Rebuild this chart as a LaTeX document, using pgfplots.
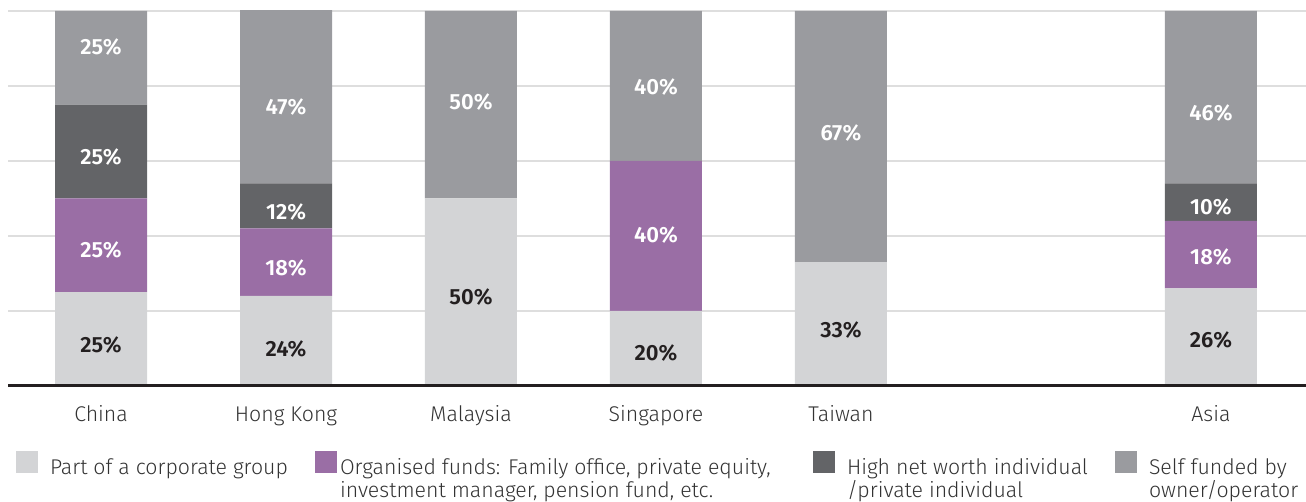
\documentclass[border=0pt]{standalone}
\usepackage{pgfplots}
\usepackage{pgfplotstable}
\pgfplotsset{compat=1.18}
\usepackage{fontspec}
\setmainfont{Fira Sans Light}[BoldFont={Fira Sans SemiBold}]

\definecolor{cLight}{HTML}{D3D4D6}
\definecolor{cPurple}{HTML}{9A6EA5}
\definecolor{cDark}{HTML}{636467}
\definecolor{cMid}{HTML}{9A9B9F}
\definecolor{cText}{HTML}{231F20}
\definecolor{cLab}{HTML}{333333}
\definecolor{cGrid}{HTML}{DEDEDE}

\pgfplotstableread{
x corp funds hnw self
0 25 25 25 25
1 24 18 12 47
2 50 0 0 50
3 20 40 0 40
4 33 0 0 67
6 26 18 10 46
}\datatable

\pgfplotstableread{
x y v
0 11.0 25
1 9.8 24
2 23.7 50
3 8.8 20
4 15.0 33
6 12.3 26
}\darklabels

\pgfplotstableread{
x y v
0 36.3 25
0 61.1 25
0 90.4 25
1 31.5 18
1 46.4 12
1 74.4 47
2 75.7 50
3 40.3 40
3 79.7 40
4 67.5 67
6 34.4 18
6 47.7 10
6 72.8 46
}\whitelabels

\newcommand{\tickfont}{\fontsize{21.3bp}{23bp}\selectfont}
\newcommand{\barfont}{\fontsize{22bp}{24bp}\selectfont\bfseries}

\begin{document}
\begin{tikzpicture}
\useasboundingbox (0,0) rectangle (1306bp,502bp);
\begin{axis}[
  at={(8bp,116bp)}, anchor=south west,
  scale only axis, width=1298bp, height=375bp,
  xmin=-0.503, xmax=6.514, ymin=0, ymax=100,
  ybar stacked, bar width=92bp,
  axis line style={draw=none},
  xtick={0,1,2,3,4,6},
  xticklabels={China,Hong Kong,Malaysia,Singapore,Taiwan,Asia},
  xticklabel style={anchor=base, yshift=-36bp, font=\tickfont, text=cLab},
  ytick={20,40,60,80,100}, yticklabels={},
  major tick length=0pt,
  ymajorgrids, grid style={cGrid, line width=1.2bp},
  legend columns=4,
  legend cell align=left,
  legend image code/.code={\fill[#1] (0bp,-6bp) rectangle (22bp,16bp);},
  legend style={
    at={(axis description cs:0.00616,-0.1733)}, anchor=north west,
    draw=none, fill=none, inner sep=0pt, outer sep=0pt,
    font=\tickfont, text=cLab,
    nodes={inner sep=0pt, outer sep=0pt},
    /tikz/every odd column/.style={column sep=12bp},
    /tikz/every even column/.style={column sep=0bp},
  },
]
\addplot[fill=cLight, draw=none] table[x=x, y=corp] {\datatable};
\addlegendentry{\parbox[t]{265bp}{\tickfont Part of a corporate group}}
\addplot[fill=cPurple, draw=none] table[x=x, y=funds] {\datatable};
\addlegendentry{\parbox[t]{464bp}{\tickfont\hspace*{-9bp}Organised funds: Family office, private equity,\\\hspace*{-9bp}investment manager, pension fund, etc.}}
\addplot[fill=cDark, draw=none] table[x=x, y=hnw] {\datatable};
\addlegendentry{\parbox[t]{268bp}{\tickfont High net worth individual\\/private individual}}
\addplot[fill=cMid, draw=none] table[x=x, y=self] {\datatable};
\addlegendentry{\parbox[t]{150bp}{\tickfont Self funded by\\owner/operator}}
\end{axis}
\begin{axis}[
  at={(8bp,116bp)}, anchor=south west,
  scale only axis, width=1298bp, height=375bp,
  xmin=-0.503, xmax=6.514, ymin=0, ymax=100,
  hide y axis,
  axis x line*=bottom,
  x axis line style={-, line width=3bp, draw=cText},
  xtick=\empty,
]
\addplot[draw=none, mark=none, point meta=explicit symbolic,
  nodes near coords={\pgfplotspointmeta\%},
  every node near coord/.append style={anchor=center, font=\barfont, text=cText, inner sep=0pt}]
  table[x=x, y=y, meta=v] {\darklabels};
\addplot[draw=none, mark=none, point meta=explicit symbolic,
  nodes near coords={\pgfplotspointmeta\%},
  every node near coord/.append style={anchor=center, font=\barfont, text=white, inner sep=0pt}]
  table[x=x, y=y, meta=v] {\whitelabels};
\end{axis}
\end{tikzpicture}
\end{document}
